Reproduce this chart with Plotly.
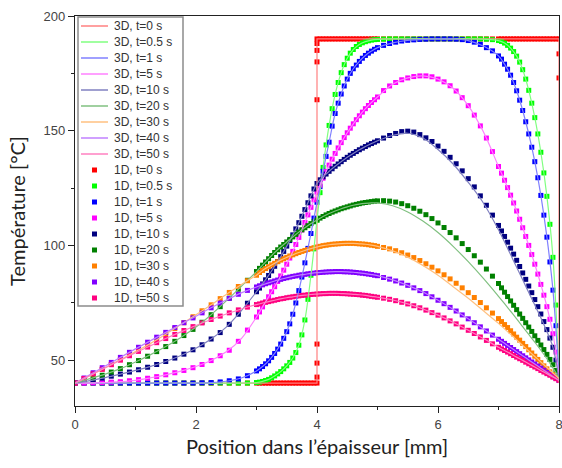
import numpy as np
import plotly.graph_objects as go

# ---------------------------------------------------------------
# Sample positions (mm) through the thickness
# ---------------------------------------------------------------
X_1D = np.round(np.concatenate([
    np.arange(0.0, 3.0001, 0.15),
    np.arange(3.05, 5.0001, 0.05),
    np.arange(5.1, 7.0001, 0.1),
    np.arange(7.05, 8.0001, 0.05),
]), 3)

X_3D = np.round(np.concatenate([
    np.arange(0.0, 3.0001, 0.25),
    np.arange(3.1, 5.0001, 0.1),
    np.arange(5.25, 7.0001, 0.25),
    np.arange(7.1, 8.0001, 0.1),
]), 3)

# ---------------------------------------------------------------
# 1D model temperatures (degC) on X_1D
# ---------------------------------------------------------------
T1D_0 = [40.0, 40.0, 40.0, 40.0, 40.0, 40.0, 40.0, 40.0, 40.0, 40.0, 40.0,
         40.0, 40.0, 40.0, 40.0, 40.0, 40.0, 40.0, 40.0, 40.0, 40.0,
         40.0, 40.0, 40.0, 40.0, 40.0, 40.0, 40.0, 40.0, 40.0, 40.0,
         40.0, 40.0, 40.0, 40.0, 40.0, 40.0, 40.0, 40.0, 40.0, 40.0,
         190.0, 190.0, 190.0, 190.0, 190.0, 190.0, 190.0, 190.0, 190.0, 190.0,
         190.0, 190.0, 190.0, 190.0, 190.0, 190.0, 190.0, 190.0, 190.0, 190.0,
         190.0, 190.0, 190.0, 190.0, 190.0, 190.0, 190.0, 190.0, 190.0, 190.0,
         190.0, 190.0, 190.0, 190.0, 190.0, 190.0, 190.0, 190.0, 190.0, 190.0,
         190.0, 190.0, 190.0, 190.0, 190.0, 190.0, 190.0, 190.0, 190.0, 190.0,
         190.0, 190.0, 190.0, 190.0, 190.0, 190.0, 190.0, 190.0, 190.0, 190.0]
# extra t=0 nodes sitting on the interface and on the hot face
X1D_0_EXTRA = [4.0, 4.0, 4.0, 4.0, 4.0, 4.0, 4.0, 4.0, 8.0, 8.0]
T1D_0_EXTRA = [42.6, 48.7, 57.0, 163.5, 180.0, 185.0, 188.0, 190.0, 183.5, 173.0]

T1D_05 = [40.0, 40.0, 40.0, 40.0, 40.0, 40.0, 40.0, 40.0, 40.0, 40.0,
          40.0, 40.0, 40.0, 40.0, 40.0, 40.0, 40.0, 40.0, 40.0, 40.0, 40.2,
          40.4, 40.7, 41.1, 41.6, 42.3, 43.1, 44.0, 45.0, 46.2, 47.5,
          49.0, 50.9, 53.3, 56.5, 61.0, 67.5, 76.5, 87.0, 98.5, 111.0,
          123.0, 134.0, 143.8, 152.3, 159.6, 165.8, 171.0, 175.3, 178.8, 181.6,
          183.8, 185.4, 186.7, 187.6, 188.3, 188.8, 189.2, 189.5, 189.7, 189.8,
          189.9, 190.0, 190.0, 190.0, 190.0, 190.0, 190.0, 190.0, 190.0, 190.0,
          190.0, 190.0, 190.0, 190.0, 190.0, 190.0, 190.0, 189.9, 189.7, 189.3,
          188.9, 188.2, 187.2, 186.0, 184.5, 182.5, 179.9, 176.6, 172.5, 167.6,
          162.0, 155.7, 148.6, 140.6, 131.6, 121.4, 109.2, 94.8, 74.0, 43.0]

T1D_1 = [40.0, 40.0, 40.0, 40.0, 40.0, 40.0, 40.0, 40.0, 40.0, 40.0,
         40.0, 40.0, 40.0, 40.0, 40.1, 40.2, 40.5, 41.0, 41.8, 43.2, 45.3,
         46.2, 47.2, 48.4, 49.7, 51.2, 52.9, 54.8, 57.0, 59.5, 62.4,
         65.8, 70.0, 74.9, 80.3, 86.2, 92.4, 98.7, 105.2, 111.9, 118.8,
         125.6, 132.3, 138.8, 145.0, 152.0, 157.5, 162.0, 166.0, 169.5, 172.5,
         175.0, 177.0, 178.6, 180.2, 181.6, 182.8, 183.8, 184.7, 185.5, 186.2,
         187.2, 188.0, 188.6, 189.1, 189.4, 189.6, 189.8, 189.9, 190.0, 190.0,
         190.0, 190.0, 189.9, 189.7, 189.3, 188.6, 187.6, 186.2, 184.8, 182.6,
         181.2, 179.0, 176.8, 174.2, 171.0, 167.4, 163.3, 158.8, 153.9, 148.6,
         142.8, 136.5, 129.5, 121.8, 113.2, 103.6, 92.8, 80.5, 65.0, 43.0]

T1D_5 = [40.0, 40.0, 40.1, 40.2, 40.4, 40.6, 41.0, 41.5, 42.1, 42.8,
         43.6, 44.5, 45.5, 46.7, 48.1, 49.8, 51.9, 54.3, 58.2, 63.1, 68.8,
         71.0, 73.2, 75.4, 77.6, 79.8, 82.0, 84.3, 86.7, 89.2, 91.8,
         94.5, 97.4, 100.4, 103.5, 106.7, 110.0, 113.3, 116.6, 119.9, 123.2,
         126.3, 129.3, 132.2, 135.0, 137.6, 140.1, 142.5, 144.8, 147.0, 149.1,
         151.1, 153.0, 154.8, 156.5, 158.1, 159.6, 161.0, 162.3, 163.5, 164.7,
         167.5, 169.5, 171.0, 172.2, 173.0, 173.6, 173.9, 173.9, 173.5, 172.5,
         171.3, 169.6, 167.3, 164.4, 160.9, 156.8, 152.1, 146.8, 140.9, 134.4,
         131.5, 128.4, 125.2, 121.9, 118.5, 115.0, 111.4, 107.7, 103.9, 100.0,
         96.0, 91.8, 87.5, 83.0, 78.3, 73.3, 67.8, 61.5, 53.5, 43.0]

T1D_10 = [40.0, 40.7, 41.4, 42.2, 43.0, 43.9, 44.8, 45.8, 46.9, 48.1,
          49.4, 50.9, 52.6, 54.5, 56.7, 59.2, 62.0, 65.6, 70.0, 74.8, 79.8,
          81.4, 83.2, 85.0, 86.9, 88.9, 90.9, 93.0, 95.1, 97.4, 99.7,
          102.1, 104.6, 107.2, 109.9, 112.7, 115.6, 118.6, 121.6, 124.6, 127.0,
          128.6, 129.9, 131.1, 132.3, 133.4, 134.5, 135.5, 136.5, 137.5, 138.4,
          139.3, 140.1, 140.9, 141.7, 142.4, 143.1, 143.8, 144.4, 145.0, 145.6,
          146.8, 147.9, 148.8, 149.6, 149.8, 149.4, 148.3, 146.9, 145.3, 143.3,
          141.0, 138.4, 135.6, 132.5, 129.1, 125.5, 121.6, 117.5, 113.2, 108.7,
          106.3, 103.9, 101.4, 98.8, 96.2, 93.5, 90.8, 88.0, 85.2, 82.3,
          79.4, 76.4, 73.3, 70.1, 66.8, 63.3, 59.6, 55.6, 50.0, 43.0]

T1D_20 = [40.0, 41.1, 42.2, 43.4, 44.8, 46.3, 48.0, 49.8, 51.7, 53.7,
          55.9, 58.2, 60.7, 63.4, 66.5, 69.8, 73.3, 77.0, 80.9, 84.8, 88.6,
          90.0, 91.4, 92.8, 94.2, 95.6, 96.9, 98.1, 99.3, 100.4, 101.5,
          102.6, 103.7, 104.8, 105.8, 106.8, 107.7, 108.6, 109.5, 110.3, 111.1,
          111.9, 112.6, 113.3, 113.9, 114.5, 115.0, 115.5, 116.0, 116.4, 116.8,
          117.2, 117.6, 117.9, 118.2, 118.5, 118.7, 118.9, 119.1, 119.3, 119.4,
          119.5, 119.3, 118.9, 118.2, 117.3, 116.2, 114.9, 113.4, 111.7, 109.8,
          107.8, 105.6, 103.3, 100.8, 98.2, 95.5, 92.7, 89.7, 86.6, 83.4,
          81.5, 79.6, 77.7, 75.8, 73.9, 72.0, 70.1, 68.2, 66.3, 64.4,
          62.5, 60.6, 58.6, 56.6, 54.6, 52.5, 50.3, 48.0, 45.5, 42.8]

T1D_30 = [40.0, 42.0, 44.0, 46.0, 48.1, 50.2, 52.3, 54.4, 56.6, 58.8,
          61.3, 63.8, 66.3, 68.9, 71.5, 74.1, 76.8, 79.5, 82.1, 84.6, 87.0,
          88.2, 89.1, 89.9, 90.7, 91.5, 92.2, 92.9, 93.6, 94.2, 94.8,
          95.4, 95.9, 96.4, 96.9, 97.4, 97.8, 98.2, 98.6, 99.0, 99.3,
          99.6, 99.9, 100.1, 100.3, 100.5, 100.6, 100.7, 100.8, 100.9, 100.9,
          100.9, 100.9, 100.8, 100.7, 100.6, 100.5, 100.3, 100.1, 99.9, 99.6,
          99.1, 98.5, 97.7, 96.8, 95.8, 94.7, 93.4, 92.0, 90.5, 88.9,
          87.2, 85.4, 83.5, 81.5, 79.4, 77.3, 75.1, 72.8, 70.5, 68.1,
          66.8, 65.5, 64.2, 62.8, 61.4, 60.0, 58.7, 57.3, 55.9, 54.5,
          53.1, 51.7, 50.3, 48.9, 47.5, 46.2, 44.9, 43.7, 42.6, 41.5]

T1D_40 = [40.0, 42.2, 44.5, 46.7, 49.0, 51.2, 53.4, 55.6, 57.8, 60.0,
          62.1, 64.2, 66.3, 68.4, 70.6, 72.8, 74.9, 76.9, 78.7, 80.4, 81.9,
          82.4, 82.8, 83.3, 83.7, 84.1, 84.5, 84.9, 85.2, 85.6, 85.9,
          86.2, 86.5, 86.7, 87.0, 87.2, 87.4, 87.6, 87.8, 87.9, 88.1,
          88.2, 88.3, 88.4, 88.5, 88.5, 88.6, 88.6, 88.6, 88.5, 88.5,
          88.4, 88.3, 88.2, 88.0, 87.9, 87.7, 87.5, 87.3, 87.0, 86.8,
          86.0, 85.3, 84.5, 83.6, 82.6, 81.5, 80.3, 79.0, 77.6, 76.1,
          74.6, 73.0, 71.4, 69.7, 68.0, 66.3, 64.5, 62.7, 60.9, 59.1,
          58.2, 57.3, 56.4, 55.5, 54.6, 53.7, 52.8, 51.9, 51.0, 50.1,
          49.2, 48.3, 47.4, 46.5, 45.6, 44.7, 43.8, 42.9, 42.0, 41.1]

T1D_50 = [40.0, 42.0, 44.0, 46.0, 48.0, 50.0, 51.9, 53.8, 55.7, 57.6,
          59.4, 61.2, 62.9, 64.6, 66.2, 67.7, 69.2, 70.6, 71.9, 73.1, 74.2,
          74.5, 74.9, 75.2, 75.5, 75.8, 76.1, 76.4, 76.7, 76.9, 77.2,
          77.4, 77.6, 77.8, 78.0, 78.2, 78.3, 78.5, 78.6, 78.7, 78.8,
          78.9, 79.0, 79.0, 79.1, 79.1, 79.1, 79.1, 79.0, 79.0, 78.9,
          78.8, 78.7, 78.6, 78.5, 78.3, 78.2, 78.0, 77.8, 77.6, 77.4,
          77.0, 76.5, 75.9, 75.2, 74.5, 73.7, 72.8, 71.8, 70.7, 69.6,
          68.4, 67.1, 65.8, 64.4, 63.0, 61.6, 60.1, 58.6, 57.1, 55.6,
          54.9, 54.2, 53.5, 52.8, 52.0, 51.3, 50.6, 49.9, 49.1, 48.4,
          47.7, 47.0, 46.3, 45.5, 44.8, 44.1, 43.4, 42.6, 41.9, 41.2]

# ---------------------------------------------------------------
# 3D model temperatures (degC) on X_3D
# ---------------------------------------------------------------
X3D_0 = [0.0, 4.0, 4.0, 8.0, 8.0]
T3D_0 = [40.0, 40.0, 190.0, 190.0, 40.0]

T3D_05 = [40.0, 40.0, 40.0, 40.0, 40.0, 40.0, 40.0, 40.0, 40.0, 40.0, 40.0, 40.0, 40.2,
          40.7, 41.6, 43.1, 45.0, 47.5, 50.9, 56.5, 67.5, 87.0, 111.0,
          134.0, 152.3, 165.8, 175.3, 181.6, 185.4, 187.6, 188.8, 189.5, 189.8,
          190.0, 190.0, 190.0, 190.0, 190.0, 190.0, 189.9, 189.3,
          188.2, 186.0, 182.5, 176.6, 167.6, 155.7, 140.6, 121.4, 94.8, 43.0]

T3D_1 = [40.0, 40.0, 40.0, 40.0, 40.0, 40.0, 40.0, 40.0, 40.0, 40.2, 40.8, 42.2, 45.3,
         47.2, 49.7, 52.9, 57.0, 62.4, 70.0, 80.3, 92.4, 105.2, 118.8,
         132.3, 145.0, 157.5, 166.0, 172.5, 177.0, 180.2, 182.8, 184.7, 186.2,
         188.3, 189.4, 189.8, 190.0, 190.0, 189.3, 186.9, 182.6,
         179.0, 174.2, 167.4, 158.8, 148.6, 136.5, 121.8, 103.6, 80.5, 43.0]

T3D_5 = [40.0, 40.0, 40.2, 40.6, 41.2, 42.3, 43.6, 45.2, 47.2, 49.8, 53.6, 59.4, 68.8,
         73.2, 77.6, 82.0, 86.7, 91.8, 97.4, 103.5, 110.0, 116.6, 123.2,
         129.3, 135.0, 140.1, 144.8, 149.1, 153.0, 156.5, 159.6, 162.3, 164.7,
         170.3, 173.0, 173.9, 172.5, 168.5, 160.9, 149.5, 134.4,
         128.4, 121.9, 115.0, 107.7, 100.0, 91.8, 83.0, 73.3, 61.5, 43.0]

T3D_10 = [40.0, 41.1, 42.4, 43.9, 45.5, 47.3, 49.4, 52.0, 55.2, 59.2, 64.4, 71.6, 79.8,
          83.2, 86.9, 90.9, 95.1, 99.7, 104.6, 109.9, 115.6, 121.6, 127.0,
          129.9, 132.3, 134.5, 136.5, 138.4, 140.1, 141.7, 143.1, 144.4, 145.6,
          147.9, 148.9, 146.8, 141.8, 135.5, 127.5, 118.5, 106.8,
          101.5, 96.0, 90.5, 85.0, 79.5, 74.0, 68.5, 62.5, 55.5, 42.0]

T3D_20 = [40.0, 41.9, 43.9, 46.3, 49.2, 52.4, 55.9, 59.9, 64.4, 69.8, 75.8, 82.2, 88.6,
          91.4, 94.2, 96.9, 99.3, 101.5, 103.7, 105.8, 107.7, 109.5, 111.1,
          112.6, 113.9, 115.0, 116.0, 116.8, 117.5, 118.0, 118.3, 118.5, 118.5,
          117.3, 114.6, 110.6, 105.6, 99.6, 92.9, 85.6, 77.8,
          74.6, 71.3, 68.0, 64.6, 61.2, 57.8, 54.3, 50.6, 46.6, 42.0]

T3D_30 = [40.0, 43.3, 46.7, 50.2, 53.7, 57.3, 61.3, 65.5, 69.8, 74.1, 78.6, 83.0, 87.0,
          89.1, 90.7, 92.2, 93.6, 94.8, 95.9, 96.9, 97.8, 98.6, 99.3,
          99.9, 100.3, 100.6, 100.8, 100.9, 100.9, 100.7, 100.5, 100.1, 99.6,
          97.6, 94.9, 91.3, 87.0, 82.0, 77.0, 71.5, 66.0,
          63.6, 61.2, 58.8, 56.4, 54.0, 51.6, 49.2, 46.8, 44.4, 42.0]

T3D_40 = [40.0, 43.7, 47.4, 51.2, 54.9, 58.5, 62.1, 65.6, 69.1, 72.8, 76.2, 79.3, 81.9,
          82.8, 83.7, 84.5, 85.2, 85.9, 86.5, 87.0, 87.4, 87.8, 88.1,
          88.3, 88.5, 88.6, 88.6, 88.5, 88.3, 88.0, 87.7, 87.3, 86.8,
          85.0, 82.6, 79.7, 76.1, 72.2, 68.0, 63.6, 59.1,
          57.3, 55.5, 53.7, 51.9, 50.1, 48.3, 46.5, 44.7, 42.9, 41.1]

T3D_50 = [40.0, 43.3, 46.7, 50.0, 53.2, 56.3, 59.4, 62.3, 65.1, 67.7, 70.1, 72.3, 74.2,
          74.9, 75.5, 76.1, 76.7, 77.2, 77.6, 78.0, 78.3, 78.6, 78.8,
          79.0, 79.1, 79.1, 79.0, 78.9, 78.7, 78.5, 78.2, 77.8, 77.4,
          76.2, 74.5, 72.3, 69.6, 66.5, 63.0, 59.4, 55.6,
          54.2, 52.8, 51.3, 49.9, 48.4, 47.0, 45.5, 44.1, 42.6, 41.2]

TIME_LABELS = ["0", "0.5", "1", "5", "10", "20", "30", "40", "50"]
COLORS_1D = ["#FF0000", "#00FF00", "#0000FF", "#FF00FF", "#000080",
             "#008000", "#FF8000", "#8000FF", "#FF0080"]
COLORS_3D = ["#FF8080", "#80FF80", "#8080FF", "#FF80FF", "#8080C0",
             "#80C080", "#FFC080", "#C080FF", "#FF80C0"]

series_1d = [T1D_0, T1D_05, T1D_1, T1D_5, T1D_10, T1D_20, T1D_30, T1D_40, T1D_50]
series_3d = [T3D_0, T3D_05, T3D_1, T3D_5, T3D_10, T3D_20, T3D_30, T3D_40, T3D_50]
for s in series_1d:
    assert len(s) == len(X_1D), len(s)
for s in series_3d[1:]:
    assert len(s) == len(X_3D), len(s)

# ---------------------------------------------------------------
# Figure geometry (pixels)
# ---------------------------------------------------------------
W, H = 562, 468
M_L, M_R, M_T, M_B = 75, 3, 16, 62
PLOT_W = W - M_L - M_R
PLOT_H = H - M_T - M_B


def px_x(px):
    """Horizontal pixel -> paper coordinate."""
    return (px - M_L) / PLOT_W


def px_y(py):
    """Vertical pixel (from top) -> paper coordinate."""
    return (H - M_B - py) / PLOT_H


fig = go.Figure()

# 1D solution: square markers (drawn first, underneath the 3D curves)
for i, (lab, col, ys) in enumerate(zip(TIME_LABELS, COLORS_1D, series_1d)):
    xs = list(X_1D)
    ys = list(ys)
    if i == 0:
        xs += X1D_0_EXTRA
        ys += T1D_0_EXTRA
    fig.add_trace(go.Scatter(
        x=xs, y=ys, mode="markers",
        marker=dict(symbol="square", size=5, color=col, line=dict(width=0)),
        name=f"1D, t={lab} s", showlegend=False,
    ))

# 3D solution: thin light lines
for i, (lab, col, ys) in enumerate(zip(TIME_LABELS, COLORS_3D, series_3d)):
    if i == 0:
        xs, shape = X3D_0, "linear"
    else:
        xs, shape = X_3D, "spline"
    fig.add_trace(go.Scatter(
        x=xs, y=ys, mode="lines",
        line=dict(color=col, width=1.2, shape=shape),
        name=f"3D, t={lab} s", showlegend=False,
    ))

# ---------------------------------------------------------------
# Compact boxed legend (3D lines first, then 1D markers)
# ---------------------------------------------------------------
LEG_LEFT, LEG_RIGHT, LEG_TOP, LEG_BOTTOM = 78, 183, 17, 306
ROW0, ROW_STEP = 26, 16
SAMPLE_X0, SAMPLE_X1, TEXT_X = 81, 108, 112
MARK_HALF = 2.5
legend_font = dict(family="Liberation Sans, Arial, sans-serif", size=12, color="#333333")

shapes = [dict(type="rect", xref="paper", yref="paper",
               x0=px_x(LEG_LEFT), x1=px_x(LEG_RIGHT),
               y0=px_y(LEG_BOTTOM), y1=px_y(LEG_TOP),
               fillcolor="white", line=dict(color="#8c8c8c", width=1.5),
               layer="above")]
annotations = []
entries = ([("3D, t=%s s" % lab, "line", c) for lab, c in zip(TIME_LABELS, COLORS_3D)] +
           [("1D, t=%s s" % lab, "mark", c) for lab, c in zip(TIME_LABELS, COLORS_1D)])
for k, (text, kind, col) in enumerate(entries):
    yc = ROW0 + k * ROW_STEP
    if kind == "line":
        shapes.append(dict(type="line", xref="paper", yref="paper",
                           x0=px_x(SAMPLE_X0), x1=px_x(SAMPLE_X1),
                           y0=px_y(yc), y1=px_y(yc),
                           line=dict(color=col, width=1.5), layer="above"))
    else:
        xm = (SAMPLE_X0 + SAMPLE_X1) / 2
        shapes.append(dict(type="rect", xref="paper", yref="paper",
                           x0=px_x(xm - MARK_HALF), x1=px_x(xm + MARK_HALF),
                           y0=px_y(yc + MARK_HALF), y1=px_y(yc - MARK_HALF),
                           fillcolor=col, line=dict(width=0), layer="above"))
    annotations.append(dict(xref="paper", yref="paper", x=px_x(TEXT_X), y=px_y(yc),
                            xanchor="left", yanchor="middle", text=text,
                            showarrow=False, font=legend_font))

tick_font = dict(family="Liberation Sans, Arial, sans-serif", size=13, color="#444444")
title_font = dict(family="Lato, Calibri, sans-serif", size=20, color="#222222")

fig.update_layout(
    width=W, height=H,
    margin=dict(l=M_L, r=M_R, t=M_T, b=M_B, autoexpand=False),
    paper_bgcolor="white", plot_bgcolor="white",
    showlegend=False,
    shapes=shapes, annotations=annotations,
)

fig.update_xaxes(
    range=[0, 8], tickvals=[0, 2, 4, 6, 8], ticks="outside", ticklen=6,
    tickwidth=1, tickcolor="#222222", ticklabeloverflow="allow", automargin=False,
    minor=dict(tickvals=[1, 3, 5, 7], ticks="outside", ticklen=3, tickcolor="#222222"),
    showline=True, linecolor="#222222", linewidth=1.2, mirror=True,
    showgrid=False, zeroline=False, tickfont=tick_font,
    title=dict(text="Position dans l\u2019épaisseur [mm]", font=title_font, standoff=9),
)
fig.update_yaxes(
    range=[30, 200], tickvals=[50, 100, 150, 200], ticks="outside", ticklen=6,
    tickwidth=1, tickcolor="#222222", ticklabeloverflow="allow", automargin=False,
    minor=dict(tickvals=[75, 125, 175], ticks="outside", ticklen=3, tickcolor="#222222"),
    showline=True, linecolor="#222222", linewidth=1.2, mirror=True,
    showgrid=False, zeroline=False, tickfont=tick_font,
    title=dict(text="Température [°C]", font=title_font, standoff=12),
)

fig.write_html("out.html")
